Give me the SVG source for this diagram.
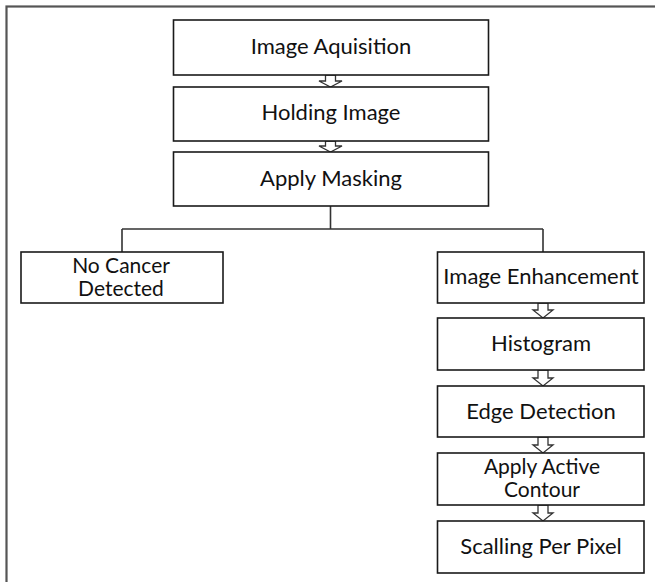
<svg xmlns="http://www.w3.org/2000/svg" width="655" height="582" viewBox="0 0 655 582">
<style>
.box{fill:#fff;stroke:#1a1a1a;stroke-width:1.6}
.lbl{font-family:Lato,"Open Sans","Liberation Sans",sans-serif;font-size:22px;fill:#111;text-anchor:middle}
.two{font-size:21px}
.con{fill:none;stroke:#333;stroke-width:1.6}
.arr{fill:#fff;stroke:#333;stroke-width:1.3;stroke-linejoin:miter}
.frame{fill:none;stroke:#555;stroke-width:2.2}
</style>
<rect class="frame" x="6.5" y="6.5" width="720" height="640"/>
<g id="connectors">
<path class="con" d="M330.5 206 V229 M122 229 H543 M122 229 V252 M543 229 V252"/>
<path class="arr" d="M325.5 75 H335.5 V81 H342 L330.5 87 L319 81 H325.5 Z"/>
<path class="arr" d="M325.5 141 H335.5 V146 H342 L330.5 152 L319 146 H325.5 Z"/>
<path class="arr" d="M538 303 H548 V310 H553 L543 318 L533 310 H538 Z"/>
<path class="arr" d="M538 370 H548 V378 H553 L543 386 L533 378 H538 Z"/>
<path class="arr" d="M538 437 H548 V445 H553 L543 453 L533 445 H538 Z"/>
<path class="arr" d="M538 505 H548 V513 H553 L543 521 L533 513 H538 Z"/>
</g>
<g id="n1"><rect class="box" x="173.5" y="20" width="315" height="55"/><text class="lbl" x="331" y="54">Image Aquisition</text></g>
<g id="n2"><rect class="box" x="173.5" y="87" width="315" height="54"/><text class="lbl" x="331" y="120">Holding Image</text></g>
<g id="n3"><rect class="box" x="173.5" y="152" width="315" height="54"/><text class="lbl" x="331" y="185.5">Apply Masking</text></g>
<g id="n4"><rect class="box" x="21" y="252" width="202" height="51"/><text class="lbl two" x="121" y="272.5">No Cancer</text><text class="lbl two" x="121" y="296">Detected</text></g>
<g id="n5"><rect class="box" x="437.5" y="252" width="206.5" height="51"/><text class="lbl" x="541" y="284">Image Enhancement</text></g>
<g id="n6"><rect class="box" x="437.5" y="318" width="206.5" height="52"/><text class="lbl" x="541" y="351">Histogram</text></g>
<g id="n7"><rect class="box" x="437.5" y="386" width="206.5" height="51"/><text class="lbl" x="541" y="418.5">Edge Detection</text></g>
<g id="n8"><rect class="box" x="437.5" y="453" width="206.5" height="52"/><text class="lbl two" x="542" y="473.5">Apply Active</text><text class="lbl two" x="542" y="497">Contour</text></g>
<g id="n9"><rect class="box" x="437.5" y="521" width="206.5" height="52"/><text class="lbl" x="541" y="554">Scalling Per Pixel</text></g>
</svg>
